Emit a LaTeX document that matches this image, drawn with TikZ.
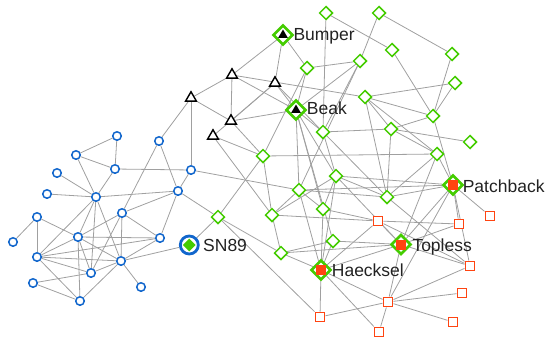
\documentclass[tikz,border=0pt]{standalone}
\usepackage{fontspec}
\setmainfont{Liberation Sans}
\usetikzlibrary{shapes.geometric, backgrounds, calc}
\definecolor{dolblue}{RGB}{17,102,204}
\definecolor{dolgreen}{RGB}{68,204,0}
\definecolor{dolred}{RGB}{255,68,17}
\definecolor{linkgray}{RGB}{160,160,160}
\definecolor{lbltext}{RGB}{34,34,34}

\begin{document}
\begin{tikzpicture}[x=1pt, y=-1pt,
    % Links between dolphins
    link/.style={draw=linkgray, line width=0.8pt},
    % Plain members of each group
    bnode/.style={circle, draw=dolblue, fill=white, line width=1.5pt, minimum size=8.5pt, inner sep=0pt},
    gnode/.style={diamond, aspect=1, draw=dolgreen, fill=white, line width=1.5pt, minimum size=13.5pt, inner sep=0pt},
    tnode/.style={regular polygon, regular polygon sides=3, draw=black, fill=white, line width=1.4pt, minimum size=12.5pt, inner sep=0pt},
    rnode/.style={rectangle, draw=dolred, fill=white, line width=1.4pt, minimum size=9.5pt, inner sep=0pt},
    % Named dolphins: outer mark plus inner mark
    bigdiamond/.style={diamond, aspect=1, draw=dolgreen, fill=white, line width=2.6pt, minimum size=20pt, inner sep=0pt},
    bigcircle/.style={circle, draw=dolblue, fill=white, line width=2.8pt, minimum size=18pt, inner sep=0pt},
    intri/.style={regular polygon, regular polygon sides=3, fill=black, minimum size=11pt, inner sep=0pt},
    insquare/.style={rectangle, fill=dolred, minimum size=10pt, inner sep=0pt},
    indiamond/.style={diamond, aspect=1, fill=dolgreen, minimum size=13pt, inner sep=0pt},
    % Labels
    lbl/.style={font=\fontsize{17.5}{20}\selectfont, text=lbltext, inner sep=0pt, anchor=base west}
]
\useasboundingbox (0,0) rectangle (550,343);

% Blue group
\foreach \n/\x/\y in {b1/117/136, b2/159/141, b3/76/155, b4/115/169, b5/191/170,
    b6/57/173, b7/178/191, b8/47/194, b9/96/197, b10/122/213, b11/37/217,
    b12/78/237, b13/160/238, b14/13/242, b15/37/257, b16/121/261, b17/91/273,
    b18/33/283, b19/141/287, b20/80/301}
    \node[bnode] (\n) at (\x,\y) {};

% Triangle group
\foreach \n/\x/\y in {t1/232/75, t2/275/83, t3/191/98, t4/231/121, t5/213/136}
    \node[tnode] (\n) at (\x,\y) {};

% Green group
\foreach \n/\x/\y in {g1/326/13, g2/307/68, g3/360/61, g4/365/97, g5/323/132,
    g6/263/156, g7/379/13, g8/392/50, g9/452/54, g10/455/83, g11/433/116,
    g12/391/129, g13/470/142, g14/437/154, g15/336/176, g16/299/190,
    g17/387/197, g18/218/217, g19/272/215, g20/323/209, g21/333/241, g22/281/253}
    \node[gnode] (\n) at (\x,\y) {};

% Red group
\foreach \n/\x/\y in {r1/378/221, r2/490/216, r3/459/224, r4/470/266, r5/462/293,
    r6/388/302, r7/453/322, r8/379/332, r9/320/317}
    \node[rnode] (\n) at (\x,\y) {};

% Named dolphins
\foreach \n/\x/\y in {bumper/283/35, beak/296/110} {
    \node[bigdiamond] (\n) at (\x,\y) {};
    \node[intri] (\n-in) at (\x,\y) {};
}
\foreach \n/\x/\y in {patch/453/185, topless/401/244.5, haeck/321/270} {
    \node[bigdiamond] (\n) at (\x,\y) {};
    \node[insquare] (\n-in) at (\x,\y) {};
}
\node[bigcircle] (sn) at (189.3,245) {};
\node[indiamond] (sn-in) at (189.3,245) {};

\node[lbl] (bumper-lbl) at ($(bumper)+(10.3,5.8)$) {Bumper};
\node[lbl] (beak-lbl) at ($(beak)+(10.7,4.6)$) {Beak};
\node[lbl] (patch-lbl) at ($(patch)+(9.6,7)$) {Patchback};
\node[lbl] (topless-lbl) at ($(topless)+(11.3,6.5)$) {Topless};
\node[lbl] (haeck-lbl) at ($(haeck)+(10.7,6.7)$) {Haecksel};
\node[lbl] (sn-lbl) at ($(sn)+(13.7,6.7)$) {SN89};

% Links, behind the marks
\begin{pgfonlayer}{background}
\foreach \a/\b in {b1/b3, b1/b4, b3/b4, b3/b9, b4/b9, b4/b5, b6/b9, b8/b9, b9/b7,
    b2/b10, b2/b7, b5/b7, b7/b10, b7/b13, b9/b12, b9/b17, b9/b15, b9/b16,
    b10/b12, b10/b13, b10/b16, b10/b17, b11/b14, b11/b15, b11/b12, b12/b13,
    b12/b17, b12/b20, b15/b12, b15/b13, b15/b16, b15/b17, b15/b20, b16/sn,
    b16/b19, b16/b17, b18/b17, b18/b20, b16/b20, b13/b16, b12/b16}
    \draw[link] (\a) -- (\b);
% blue to the others
\foreach \a/\b in {b2/t3, b5/t3, b5/g16, b7/g18, sn/g18}
    \draw[link] (\a) -- (\b);
% triangles and Beak
\foreach \a/\b in {bumper/t1, bumper/t2, bumper/g2, t1/t3, t1/t4, t1/beak, t1/g4,
    t3/t4, t4/t2, t5/t2, t4/beak, t2/beak, t2/g5, t5/g6, t5/g19, t4/g6, g2/beak,
    beak/g5, beak/g16, beak/g15, beak/g21, beak/g3, beak/g20}
    \draw[link] (\a) -- (\b);
% green group
\foreach \a/\b in {g1/g8, g1/g5, g7/g9, g7/g3, g2/g3, g2/g6, g3/g16, g3/g5,
    g4/g10, g4/g11, g4/g14, g4/g17, g4/g12, g8/g11, g9/g11, g10/g11, g11/g12,
    g11/patch, g12/g13, g12/g14, g12/g5, g6/g14, g6/g18, g6/g19, g15/g17,
    g15/g20, g15/patch, g16/g17, g16/g19, g16/haeck, g16/patch, g18/g22, g18/r9,
    g19/g22, g19/r1, g19/g15, g22/g21, g22/haeck, g21/haeck, g21/topless,
    g20/haeck, g20/r1, g14/patch, g14/topless, g17/patch, g17/r4, g5/g15,
    g5/g17, g12/g17, g16/g20, g14/g17, g15/topless, haeck/g15}
    \draw[link] (\a) -- (\b);
% red group
\foreach \a/\b in {haeck/r9, haeck/r8, haeck/r6, r9/r6, r6/r4, r6/r5, r6/r7,
    r6/topless, r6/patch, r6/r8, topless/r3, topless/r4, topless/patch,
    topless/r1, patch/r2, patch/r3, patch/r4, r1/r3, r1/r4, haeck/topless,
    haeck/r1, g22/topless}
    \draw[link] (\a) -- (\b);
\end{pgfonlayer}

\end{tikzpicture}
\end{document}
